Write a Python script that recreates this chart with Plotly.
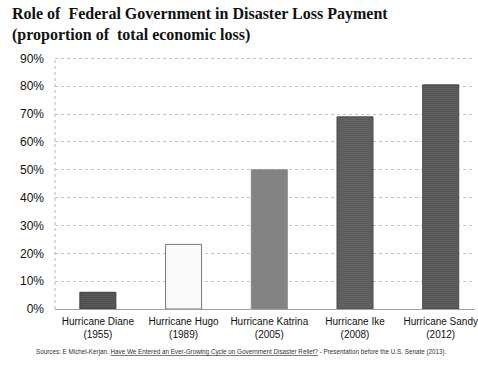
import plotly.graph_objects as go

# Federal share of total economic loss, by hurricane
storms = ["Hurricane Diane", "Hurricane Hugo", "Hurricane Katrina", "Hurricane Ike", "Hurricane Sandy"]
years = ["1955", "1989", "2005", "2008", "2012"]
federal_share = [6, 23.2, 50, 69, 80.5]  # percent

y_ticks = [0, 10, 20, 30, 40, 50, 60, 70, 80, 90]

categories = [f"{s}<br>({y})" for s, y in zip(storms, years)]

bg_colors = ["#3e3e3e", "#ffffff", "#8a8a8a", "#4a4a4a", "#464646"]
fg_colors = ["#6a6a6a", "#9a9a9a", "#a8a8a8", "#707070", "#6c6c6c"]
solidity = [0.3, 0.1, 0.3, 0.3, 0.3]
edge_colors = ["#3e3e3e", "#777777", "#8a8a8a", "#4a4a4a", "#464646"]

# pixel geometry of the plot area, used to place the free text
L, T, B, W, H = 55, 57, 309, 423, 252


def px_to_paper(x, y):
    return (x - L) / W, (B - y) / H


fig = go.Figure()
fig.add_trace(go.Bar(
    x=categories,
    y=federal_share,
    width=0.42,
    marker=dict(
        color=bg_colors,
        line=dict(color=edge_colors, width=1),
        pattern=dict(shape=".", fgcolor=fg_colors, bgcolor=bg_colors,
                     size=2, solidity=solidity, fillmode="overlay"),
    ),
    hoverinfo="skip",
))

tx, ty = px_to_paper(10, 3)
sx, sy = px_to_paper(243, 352)

fig.update_layout(
    width=478, height=367,
    margin=dict(l=L, r=0, t=T, b=367 - B),
    paper_bgcolor="white", plot_bgcolor="white",
    showlegend=False,
    annotations=[
        dict(
            text="<b>Role of  Federal Government in Disaster Loss Payment<br>(proportion of  total economic loss)</b>",
            xref="paper", yref="paper", x=tx, y=ty,
            xanchor="left", yanchor="top", align="left", showarrow=False,
            font=dict(family="Liberation Serif", size=16, color="#111111"),
        ),
        dict(
            text="Sources: E Michel-Kerjan. <u>Have We Entered an Ever-Growing Cycle on Government Disaster Relief?</u> - Presentation before the U.S. Senate (2013).",
            xref="paper", yref="paper", x=sx, y=sy,
            xanchor="center", yanchor="middle", showarrow=False,
            font=dict(family="Liberation Sans", size=6.3, color="#333333"),
        ),
    ],
    shapes=[dict(
        type="line", xref="paper", yref="paper", x0=0, x1=0, y0=0, y1=1,
        line=dict(color="#b5b5b5", width=1, dash="dot"),
    )],
)

fig.update_xaxes(
    range=[-0.5, 4.4],
    showgrid=False, showline=False, ticks="", ticklabelstandoff=5,
    tickfont=dict(family="Liberation Sans", size=10, color="#111111"),
)
fig.update_yaxes(
    range=[0, 90.5],
    tickvals=y_ticks, ticktext=[f"{v}%" for v in y_ticks],
    showgrid=True, gridcolor="#c4c4c4", griddash="dot", gridwidth=1,
    zeroline=True, zerolinecolor="#a0a0a0", zerolinewidth=1,
    showline=False, ticks="", ticklabelstandoff=10,
    tickfont=dict(family="Liberation Sans", size=12, color="#111111"),
)

fig.write_html("out.html")
